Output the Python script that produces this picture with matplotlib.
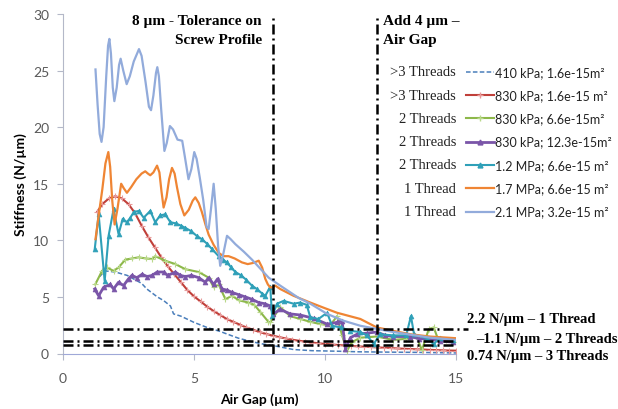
import matplotlib
matplotlib.use("Agg")
import matplotlib.pyplot as plt
from matplotlib.lines import Line2D

# ---------------- data ----------------
x_410 = [1.4, 1.6, 2.0, 2.45, 3.0, 3.2, 3.6, 3.85, 4.1, 4.22, 4.5, 5.0, 5.5, 6.0, 6.26, 6.7, 7.2, 7.6, 8.04, 8.8, 9.5, 10.5, 11.3, 12.5, 13.5, 15.0]
y_410 = [6.8, 7.3, 7.2, 6.9, 6.2, 5.7, 5.0, 4.66, 4.2, 3.5, 3.3, 2.75, 2.3, 1.95, 1.72, 1.35, 1.05, 0.85, 0.69, 0.35, 0.25, 0.2, 0.15, 0.12, 0.1, 0.05]

x_830a = [1.3, 1.5, 1.75, 2.0, 2.25, 2.5, 2.75, 3.0, 3.25, 3.5, 3.75, 4.0, 4.25, 4.5, 4.75, 5.0, 5.25, 5.5, 5.75, 6.0,
          6.25, 6.5, 6.75, 7.0, 7.25, 7.5, 7.75, 8.0, 8.25, 8.5, 8.75, 9.0, 9.25, 9.5, 9.75, 10.0, 10.25, 10.5, 10.75, 11.0,
          11.25, 11.5, 11.75, 12.0, 12.25, 12.5, 12.75, 13.0, 13.25, 13.5, 13.75, 14.0, 14.25, 14.5, 14.75, 15.0]
y_830a = [12.5, 13.2, 13.7, 13.9, 13.7, 13.2, 12.4, 11.3, 10.3, 9.4, 8.5, 7.7, 7.0, 6.3, 5.6, 5.05, 4.6, 4.15, 3.75, 3.4,
          3.05, 2.8, 2.55, 2.3, 2.1, 1.9, 1.73, 1.58, 1.45, 1.33, 1.22, 1.13, 1.05, 0.97, 0.9, 0.85, 0.8, 0.75, 0.71, 0.67,
          0.63, 0.6, 0.57, 0.54, 0.51, 0.48, 0.45, 0.42, 0.4, 0.37, 0.35, 0.32, 0.3, 0.28, 0.26, 0.25]

x_830b = [1.23, 1.49, 1.68, 1.93, 2.12, 2.38, 2.64, 2.89, 3.15, 3.4, 3.52, 3.9, 4.29, 4.67, 5.18, 5.56, 5.75, 5.94, 6.2, 6.45,
          6.71, 7.08, 7.3, 7.52, 7.84, 7.91, 8.29, 8.67, 9.06, 9.44, 9.82, 10.2, 10.46, 10.65, 10.84, 11.03, 11.35, 11.98, 12.6,
          13.1, 13.5, 13.7, 13.96, 14.15, 14.34, 14.6, 14.9]
y_830b = [6.1, 7.3, 7.6, 7.3, 7.6, 8.3, 8.4, 8.5, 8.4, 8.35, 8.6, 8.2, 7.9, 7.45, 7.2, 6.7, 5.85, 6.1, 4.8, 5.1,
          4.7, 4.5, 4.3, 3.7, 2.8, 2.75, 4.1, 3.3, 3.05, 2.8, 2.6, 2.5, 3.3, 1.6, 0.25, 1.0, 1.4, 1.5, 1.2,
          1.3, 1.45, 0.3, 2.15, 2.3, 1.1, 1.2, 1.0]

x_830c = [1.21, 1.36, 1.55, 1.8, 1.93, 2.12, 2.31, 2.5, 2.63, 2.82, 3.02, 3.21, 3.4, 3.59, 3.84, 4.0, 4.29, 4.48, 4.67, 4.9,
          5.18, 5.43, 5.56, 5.75, 5.9, 6.07, 6.26, 6.45, 6.7, 6.96, 7.2, 7.47, 7.7, 7.91, 8.03, 8.29, 8.67, 9.06, 9.57, 10.08,
          10.46, 10.65, 10.78, 10.97, 11.22, 11.6, 11.98, 12.3, 12.6, 13.26, 13.6, 13.9, 14.4, 14.9]
y_830c = [5.7, 5.1, 5.85, 6.1, 5.7, 6.3, 6.0, 6.6, 6.9, 6.7, 7.0, 6.8, 6.9, 7.2, 7.2, 6.9, 7.2, 6.9, 6.8, 6.9,
          6.7, 6.3, 6.7, 6.1, 6.6, 5.7, 5.6, 5.4, 5.2, 5.0, 4.8, 4.5, 4.4, 4.2, 3.5, 3.9, 3.5, 3.4, 3.1, 2.6,
          2.75, 2.9, 0.4, 1.4, 1.7, 1.8, 1.9, 1.6, 1.5, 1.5, 1.3, 1.3, 1.1, 1.0]

x_12 = [1.21, 1.36, 1.59, 1.74, 1.93, 2.12, 2.28, 2.44, 2.57, 2.7, 2.89, 3.08, 3.33, 3.52, 3.71, 3.9, 4.1, 4.3, 4.5, 4.67,
        4.9, 5.1, 5.3, 5.5, 5.7, 5.94, 6.1, 6.26, 6.42, 6.58, 6.8, 7.0, 7.21, 7.4, 7.6, 7.72, 7.91, 7.98, 8.17, 8.42,
        8.8, 9.05, 9.3, 9.44, 9.75, 10.08, 10.27, 10.6, 10.97, 11.35, 11.6, 11.86, 12.1, 12.6, 13.1, 13.28, 13.4, 13.9,
        14.15, 14.4, 14.9]
y_12 = [9.2, 12.3, 6.4, 10.4, 12.75, 10.55, 11.9, 11.6, 12.0, 12.5, 12.6, 12.0, 12.6, 11.6, 12.2, 12.3, 11.6, 11.5, 11.3, 11.1,
        10.8, 10.4, 10.1, 9.7, 9.2, 8.6, 8.3, 8.05, 7.6, 7.2, 6.9, 6.5, 6.0, 5.7, 5.3, 5.1, 5.9, 3.3, 4.4, 4.65,
        4.4, 4.5, 4.3, 3.2, 3.05, 3.6, 2.45, 2.3, 2.0, 1.9, 1.6, 0.84, 1.7, 1.6, 1.6, 3.3, 1.7, 1.3,
        0.84, 1.4, 1.2]

x_17 = [1.24, 1.35, 1.5, 1.62, 1.73, 1.8, 1.88, 1.97, 2.08, 2.22, 2.32, 2.44, 2.6, 2.8, 3.0, 3.14, 3.24, 3.33, 3.45, 3.59,
        3.68, 3.76, 3.84, 3.95, 4.05, 4.16, 4.26, 4.35, 4.48, 4.63, 4.8, 4.95, 5.05, 5.18, 5.3, 5.45, 5.56, 5.75, 5.94, 6.12,
        6.32, 6.55, 6.83, 7.05, 7.25, 7.47, 7.6, 7.72, 7.82, 7.91, 8.0, 8.1, 8.29, 8.8, 9.44, 10.0, 10.46, 11.35, 11.98,
        12.6, 13.26, 14.0, 15.0]
y_17 = [10.1, 12.0, 14.5, 16.8, 17.8, 16.5, 13.5, 11.4, 12.8, 15.0, 14.6, 14.2, 14.7, 15.4, 15.9, 16.1, 15.9, 15.75, 16.0, 16.6,
        16.0, 14.3, 12.9, 13.8, 15.4, 16.4, 15.9, 14.7, 13.2, 12.2, 12.7, 13.5, 13.8, 13.3, 12.5, 11.3, 10.5, 9.6, 8.9, 8.6,
        8.6, 8.4, 8.05, 7.9, 8.0, 8.2, 7.6, 6.6, 6.1, 5.84, 5.85, 6.0, 5.7, 5.1, 4.5, 4.0, 3.6, 3.05, 2.3,
        2.0, 1.7, 1.5, 1.35]

x_21 = [1.24, 1.32, 1.4, 1.47, 1.55, 1.65, 1.72, 1.77, 1.83, 1.9, 1.96, 2.05, 2.14, 2.2, 2.3, 2.43, 2.55, 2.7, 2.9, 3.0,
        3.15, 3.28, 3.36, 3.45, 3.55, 3.6, 3.66, 3.75, 3.87, 3.96, 4.08, 4.2, 4.37, 4.55, 4.65, 4.79, 4.9, 5.01, 5.1, 5.22,
        5.35, 5.48, 5.56, 5.65, 5.75, 5.83, 5.92, 6.0, 6.1, 6.26, 6.4, 6.58, 6.9, 7.21, 7.85, 8.29, 9.0, 9.44, 10.08,
        10.7, 11.35, 12.6, 14.0, 15.0]
y_21 = [25.1, 22.0, 19.4, 18.7, 20.0, 24.5, 27.2, 27.8, 26.5, 23.5, 22.3, 23.5, 25.5, 26.05, 25.0, 23.8, 24.5, 25.8, 26.9, 26.3,
        24.0, 21.8, 21.5, 22.8, 24.8, 25.3, 24.5, 21.5, 17.9, 18.6, 20.1, 19.8, 18.9, 18.8, 17.4, 15.4, 16.3, 17.8, 17.2, 15.55,
        13.6, 11.2, 11.0, 12.8, 15.0, 12.8, 9.5, 7.75, 8.6, 10.4, 10.1, 9.66, 9.0, 8.3, 6.7, 6.0, 4.9, 4.4, 3.5,
        2.9, 2.45, 1.9, 1.4, 1.2]

threads = [">3 Threads", ">3 Threads", "2 Threads", "2 Threads", "2 Threads", "1 Thread", "1 Thread"]
labels = ["410 kPa; 1.6e-15m²", "830 kPa; 1.6e-15 m²", "830 kPa; 6.6e-15m²", "830 kPa; 12.3e-15m²",
          "1.2 MPa; 6.6e-15 m²", "1.7 MPa; 6.6e-15 m²", "2.1 MPa; 3.2e-15 m²"]

v_lines = [8, 12]
h_lines = [2.2, 1.1, 0.74]
h_texts = ["2.2 N/µm – 1 Thread", "–1.1 N/µm – 2 Threads", "0.74 N/µm – 3 Threads"]

x_ticks = [0, 5, 10, 15]
y_ticks = [0, 5, 10, 15, 20, 25, 30]

# ---------------- figure ----------------
W, H = 618, 410
fig = plt.figure(figsize=(W / 100, H / 100), dpi=100)
ax = fig.add_axes([63 / W, 1 - 354.5 / H, (456 - 63) / W, (354.5 - 15) / H])


def fx(px):
    return px / W


def fy(py):
    return 1 - py / H


styles = [
    dict(color="#4a7ebb", lw=1.1, ls=(0, (3, 1.5)), marker=None),
    dict(color="#c0403a", lw=1.5, ls="-", marker="+", ms=4, mec="#e89a9a", mew=0.8),
    dict(color="#8db84a", lw=1.5, ls="-", marker="+", ms=4, mec="#b9d98a", mew=0.8),
    dict(color="#7a55a8", lw=2.0, ls="-", marker="^", ms=3.5, mec="#7a55a8"),
    dict(color="#2fa0b8", lw=1.5, ls="-", marker="^", ms=3.5, mec="#2fa0b8"),
    dict(color="#ef8534", lw=1.6, ls="-", marker=None),
    dict(color="#92abdb", lw=1.6, ls="-", marker=None),
]
series = [(x_410, y_410), (x_830a, y_830a), (x_830b, y_830b), (x_830c, y_830c),
          (x_12, y_12), (x_17, y_17), (x_21, y_21)]

for (xs, ys), st in zip(series, styles):
    kw = dict(color=st["color"], lw=st["lw"], ls=st["ls"], solid_joinstyle="round")
    if st["marker"]:
        kw.update(marker=st["marker"], ms=st["ms"], mec=st["mec"], mfc=st["mec"], mew=st.get("mew", 0.5))
    ax.plot(xs, ys, **kw, zorder=3)

ax.set_xlim(0, 15)
ax.set_ylim(0, 30)
ax.set_xticks(x_ticks)
ax.set_yticks(y_ticks)
for s in ["top", "right"]:
    ax.spines[s].set_visible(False)
ax.spines["left"].set_color("#b4b8c8")
ax.spines["bottom"].set_color("#9fa8d8")
ax.tick_params(axis="both", colors="#b4b8c8", labelcolor="#595959", labelsize=10, length=4, width=0.8)
for lab in ax.get_xticklabels() + ax.get_yticklabels():
    lab.set_fontfamily("Lato")
ax.tick_params(axis="x", pad=9)
ax.tick_params(axis="y", pad=6)
ax.set_xlabel("Air Gap (µm)", fontfamily="Lato", fontweight="bold", fontsize=10, labelpad=6)
ax.set_ylabel("Stiffness (N/µm)", fontfamily="Lato", fontweight="bold", fontsize=10, labelpad=4)

# reference lines
dd = (0, (4, 1.6, 0.8, 1.6))
for xv in v_lines:
    ax.axvline(xv, color="black", lw=1.8, ls=dd, zorder=5)
for i, yv in enumerate(h_lines):
    ax.plot([0, 15.45 if i == 0 else 15.0], [yv, yv], color="black", lw=1.8, ls=dd, zorder=5, clip_on=False)

# top annotations
serif = ["Liberation Serif", "DejaVu Serif"]
fig.text(fx(262), fy(31), "8 µm - Tolerance on\nScrew Profile", ha="right", va="center", fontsize=11,
         fontweight="bold", family=serif, linespacing=1.6)
fig.text(fx(383), fy(31), "Add 4 µm –\nAir Gap", ha="left", va="center", fontsize=11,
         fontweight="bold", family=serif, linespacing=1.6)

# right annotations
for txt, py, px in zip(h_texts, [319, 340, 357], [467, 476, 467]):
    fig.text(fx(px), fy(py), txt, ha="left", va="center", fontsize=10.5, fontweight="bold", family=serif)

# legend (manual layout)
for i, st in enumerate(styles):
    py = 72.7 + 23.3 * i
    fig.text(fx(456), fy(py), threads[i], ha="right", va="center", fontsize=10.5, family=serif, color="#222222")
    kw = dict(color=st["color"], lw=st["lw"], ls=st["ls"])
    if st["marker"]:
        kw.update(marker=st["marker"], ms=st["ms"], mec=st["mec"], mfc=st["mec"], markevery=[1])
    fig.add_artist(Line2D([fx(466), fx(480), fx(494)], [fy(py)] * 3, transform=fig.transFigure, **kw))
    fig.text(fx(495), fy(py), labels[i], ha="left", va="center", fontsize=9.0, family=["Lato", "DejaVu Sans"],
             color="#222222")

fig.savefig("out.png", dpi=100)
